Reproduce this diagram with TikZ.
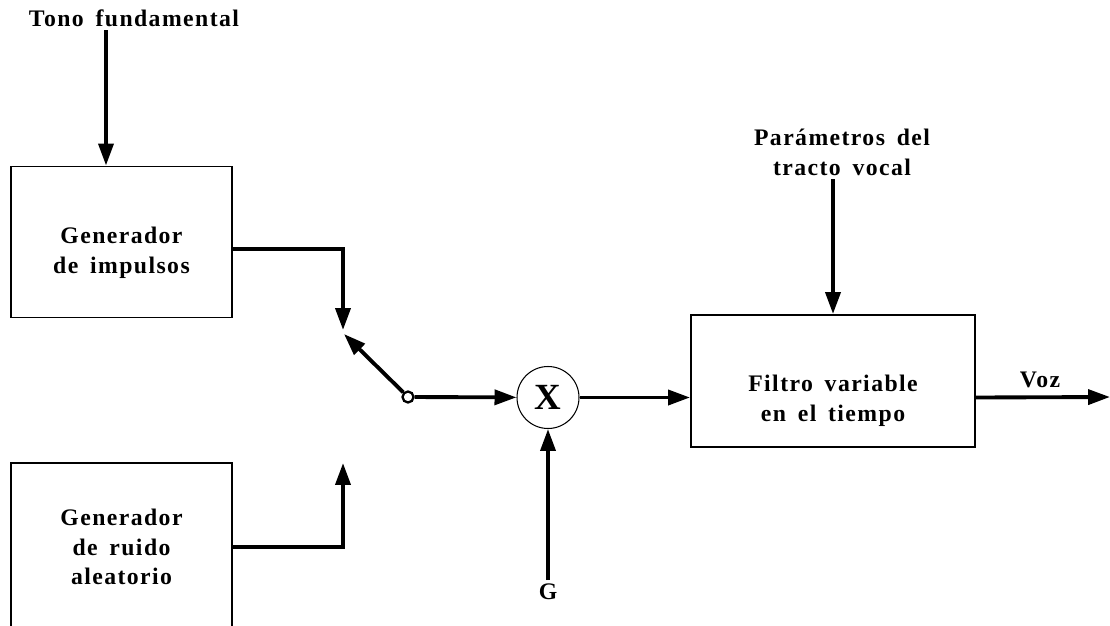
\documentclass[tikz,border=0pt]{standalone}
\usepackage{fontspec}
\setmainfont{Liberation Serif}[LetterSpace=6,WordSpace=1.6]
\usetikzlibrary{arrows.meta,positioning,calc}

\begin{document}
\begin{tikzpicture}[
    bloque/.style={draw, line width=1.1pt, minimum width=4.42cm, align=center, inner sep=0pt},
    etiq/.style={font=\fontsize{13.5}{17}\selectfont\bfseries, align=center, inner sep=2pt},
    flecha/.style={-{Triangle[length=12.5pt,width=8.5pt]}, line width=2.2pt}
  ]
    \useasboundingbox (0,0) rectangle (22.2,-12.5);

    % bloques
    \node[bloque, minimum height=3.02cm,
          label={[etiq, yshift=-0.22cm]center:Generador\\de impulsos}] (impulsos) at (2.43,-4.84) {};
    \node[bloque, etiq, minimum height=3.36cm] (ruido) at (2.43,-10.94) {Generador\\de ruido\\aleatorio};
    \node[bloque, minimum width=5.68cm, minimum height=2.64cm,
          label={[etiq, yshift=-0.4cm]center:Filtro variable\\en el tiempo}] (filtro) at (16.66,-7.62) {};
    \node[draw, circle, line width=0.6pt, minimum size=1.24cm, inner sep=0pt, font=\fontsize{21}{21}\selectfont\bfseries] (mult) at (10.96,-7.95) {X};
    \node[draw, circle, line width=1.3pt, minimum size=0.22cm, inner sep=0pt] (pivote) at (8.16,-7.94) {};

    % etiquetas
    \node[etiq] (tono) at (2.68,-0.36) {Tono fundamental};
    \node[etiq] (param) at (16.84,-3.04) {Parámetros del\\tracto vocal};
    \node[etiq] (ganancia) at (10.96,-11.84) {G};
    \node[etiq] (voz) at (20.8,-7.6) {Voz};

    \coordinate (sw1) at (6.86,-6.6);
    \coordinate (sw2) at (6.86,-9.26);
    \coordinate (brazo) at (6.88,-6.68);
    \coordinate (salida) at (22.2,-7.94);

    % conexiones
    \draw[flecha] ([xshift=-0.56cm]tono.south) -- ([xshift=-0.56cm]tono.south |- impulsos.north);
    \draw[flecha] ([yshift=-0.14cm]impulsos.east) -| (sw1);
    \draw[flecha] (ruido.east) -| (sw2);
    \draw[flecha] (pivote) -- (brazo);
    \draw[flecha] (pivote) -- (mult);
    \draw[flecha] (mult) -- (mult -| filtro.west);
    \draw[flecha] (param.south -| filtro) -- (filtro.north);
    \draw[flecha] (ganancia) -- (mult);
    \draw[flecha] (mult -| filtro.east) -- (salida);
  \end{tikzpicture}
\end{document}
